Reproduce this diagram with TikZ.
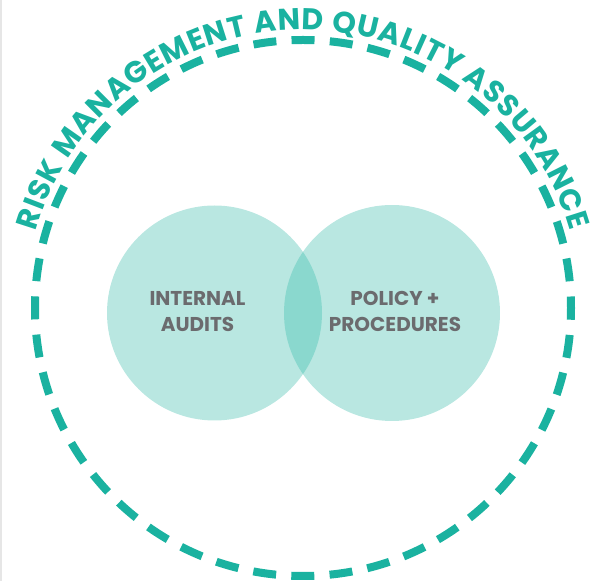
\documentclass[tikz,border=0pt]{standalone}
\usepackage{fontspec}
\setmainfont{Poppins}
\usetikzlibrary{decorations.text,calc}
\definecolor{ringteal}{HTML}{1AB2A0}
\definecolor{vennlight}{HTML}{B9E7E1}
\definecolor{vennover}{HTML}{8AD8CE}
\definecolor{labelgray}{HTML}{6B6B6E}
\definecolor{edgegray}{HTML}{E6E6E6}
\tikzset{
  dashring/.style={draw=ringteal, line width=8pt, dash pattern=on 23pt off 15.27pt, dash phase=11.5pt},
  vennlabel/.style={align=center, text=labelgray, font=\bfseries\fontsize{20}{26}\selectfont, inner sep=0pt},
}
\begin{document}
\begin{tikzpicture}[x=1pt,y=1pt]
\useasboundingbox (0,0) rectangle (590,581);
\draw[edgegray, line width=1.5pt] (0.75,0) -- (0.75,581);
\coordinate (c) at (303,273);
\coordinate (lc) at (214.5,268);
\coordinate (rc) at (392,268);
\fill[vennlight] (lc) circle (107.5);
\fill[vennlight] (rc) circle (108);
\begin{scope}
  \clip (lc) circle (107.5);
  \fill[vennover] (rc) circle (108);
\end{scope}
\draw[dashring] (c) circle (268);
\path[decorate, decoration={text along path, text align={fit to path}, text color=ringteal,
  text={|\bfseries\fontsize{30}{30}\selectfont|RISK MANAGEMENT AND QUALITY ASSURANCE}}]
  ($(c)+(164:278)$) arc[start angle=164, end angle=16, radius=278];
\node[vennlabel] (ia) at (197.5,269.5) {INTERNAL\\AUDITS};
\node[vennlabel] (pp) at (395,269.5) {POLICY +\\PROCEDURES};
\end{tikzpicture}
\end{document}
